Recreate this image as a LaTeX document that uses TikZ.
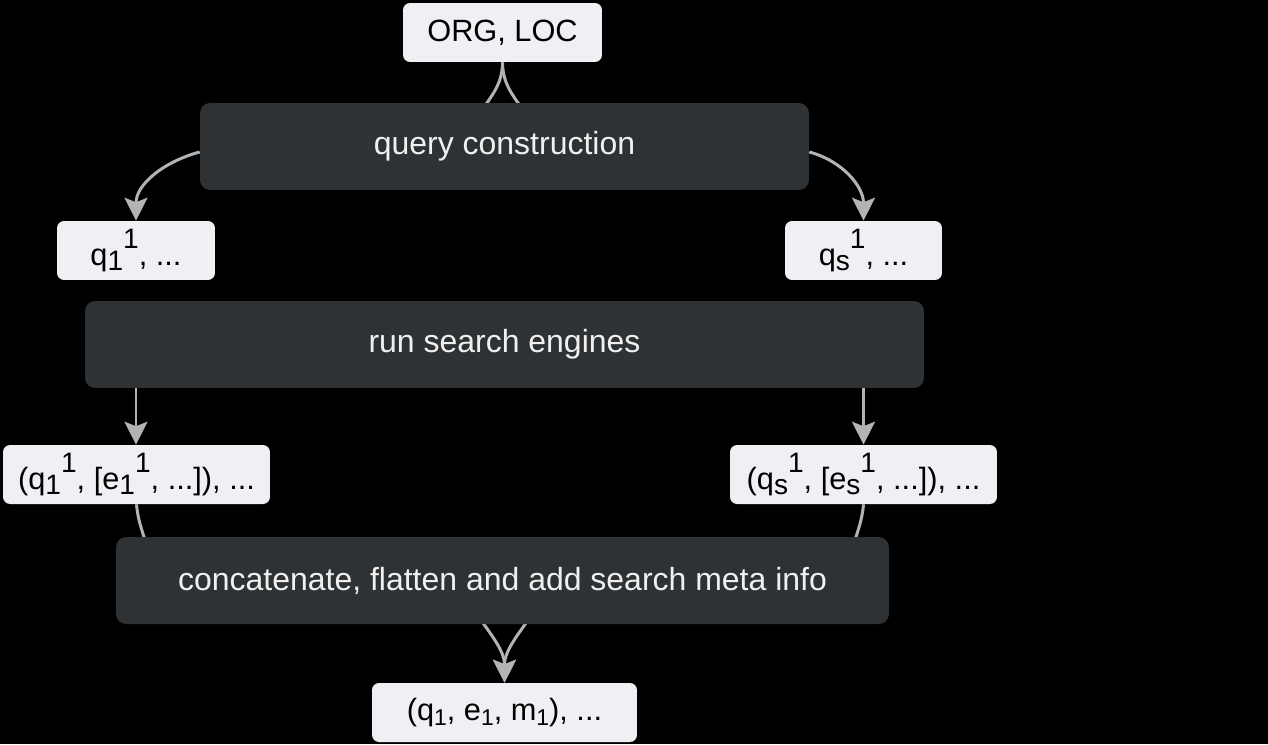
\documentclass[tikz,border=0pt]{standalone}
\usepackage{fontspec}
\setmainfont{Liberation Sans}
\usetikzlibrary{arrows.meta,backgrounds}
\definecolor{boxlight}{HTML}{EEF0F3}
\definecolor{boxdark}{HTML}{2F3234}
\definecolor{edgegray}{HTML}{B2B3B5}
\newcommand{\lo}[1]{\raisebox{-0.35ex}{\fontsize{16}{16}\selectfont #1}}
\newcommand{\hi}[1]{\raisebox{1.0ex}{\fontsize{16}{16}\selectfont #1}}
\newcommand{\sm}[1]{\raisebox{-0.3ex}{\fontsize{13}{13}\selectfont #1}}
\begin{document}
\begin{tikzpicture}[x=0.02cm, y=-0.02cm,
	lightbox/.style={fill=boxlight, text=black, rounded corners=0.14cm, inner sep=0pt, minimum height=1.18cm, font=\fontsize{17.5}{20}\selectfont},
	darkbox/.style={fill=boxdark, text=white!94!black, rounded corners=0.2cm, inner sep=0pt, minimum height=1.74cm, font=\fontsize{18.2}{20}\selectfont},
	edge/.style={draw=edgegray, line width=1.7pt},
	tip/.style={-{Stealth[length=13pt,width=13pt,inset=2.5pt]}}]
	\useasboundingbox (0,0) rectangle (1268,744);

	\node[lightbox, minimum width=3.98cm] (org) at (502.5,32.5) {ORG, LOC};
	\node[darkbox, minimum width=12.18cm] (qc) at (504.5,146.5) {query construction};
	\node[lightbox, minimum width=3.16cm] (q1) at (136,250.5) {q\lo{1}\hi{1}, ...};
	\node[lightbox, minimum width=3.14cm] (qs) at (863.5,250.5) {q\lo{s}\hi{1}, ...};
	\node[darkbox, minimum width=16.78cm] (rse) at (504.5,344.5) {run search engines};
	\node[lightbox, minimum width=5.34cm] (q1e) at (136.5,474.5) {(q\lo{1}\hi{1}, [e\lo{1}\hi{1}, ...]), ...};
	\node[lightbox, minimum width=5.34cm] (qse) at (863.5,474.5) {(q\lo{s}\hi{1}, [e\lo{s}\hi{1}, ...]), ...};
	\node[darkbox, minimum width=15.46cm] (cat) at (502.5,580.5) {concatenate, flatten and add search meta info};
	\node[lightbox, minimum width=5.3cm] (fin) at (504.5,712.5) {(q\sm{1}, e\sm{1}, m\sm{1}), ...};

	\coordinate (qcL) at (470,130);
	\coordinate (qcR) at (535,130);
	\coordinate (catL) at (150,560);
	\coordinate (catR) at (850,560);
	\coordinate (finL) at (470,605);
	\coordinate (finR) at (539,605);

	\begin{pgfonlayer}{background}
		\fill[black] (0,0) rectangle (1268,744);
		\draw[edge] (org.south) to[out=-90,in=65] (qcL);
		\draw[edge] (org.south) to[out=-90,in=115] (qcR);
		\draw[edge] (q1e.south) to[out=-85,in=100] (catL);
		\draw[edge] (qse.south) to[out=-95,in=80] (catR);
		\draw[edge, tip] (finL) to[out=-55,in=90] (fin.north);
		\draw[edge, tip] (finR) to[out=-125,in=90] (fin.north);
	\end{pgfonlayer}

	\draw[edge, tip] ([yshift=-0.11cm]qc.west) to[out=195,in=90] (q1.north);
	\draw[edge, tip] ([yshift=-0.11cm]qc.east) to[out=-15,in=90] (qs.north);
	\draw[edge, tip] (rse.south -| q1.north) -- (q1e.north -| q1.north);
	\draw[edge, tip] (rse.south -| qs.north) -- (qse.north -| qs.north);
\end{tikzpicture}
\end{document}
